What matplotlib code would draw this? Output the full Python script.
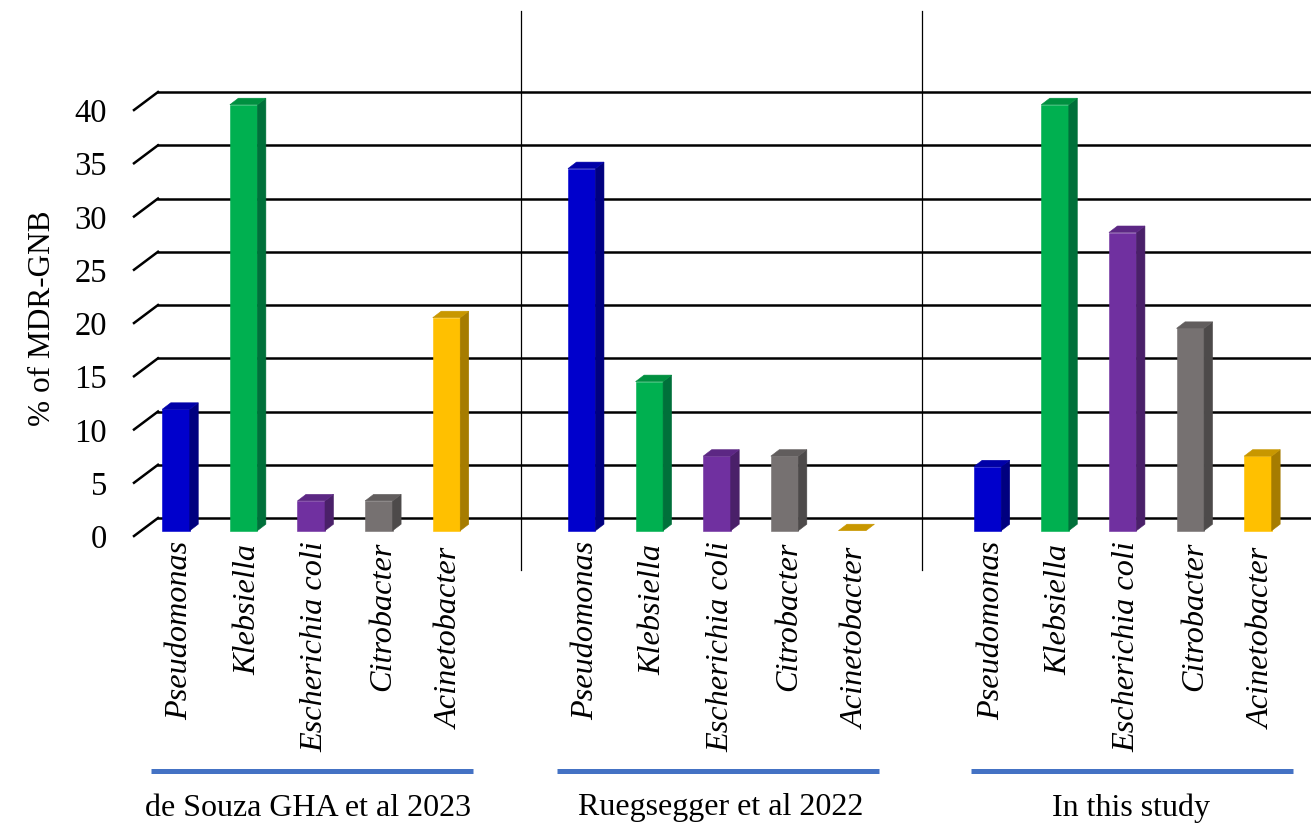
import matplotlib
matplotlib.use('Agg')
from matplotlib import pyplot as plt
from matplotlib.patches import Polygon

plt.rcParams['font.family'] = ['Liberation Serif', 'DejaVu Serif']

# datos
especies = ['Pseudomonas', 'Klebsiella', 'Escherichia coli', 'Citrobacter', 'Acinetobacter']
souza = [11.4, 40, 2.8, 2.8, 20]
ruegsegger = [34, 14, 7, 7, 0]
estudio = [6, 40, 28, 19, 7]
grupos = ['de Souza GHA et al 2023', 'Ruegsegger et al 2022', 'In this study']
ticks = [0, 5, 10, 15, 20, 25, 30, 35, 40]

frente = ['#0000CC', '#00B050', '#7030A0', '#767171', '#FFC000']
lado = ['#00007F', '#00703A', '#4A2069', '#4D4A4A', '#A67C00']
arriba = ['#0000A8', '#009040', '#5C2784', '#615D5D', '#C89700']

# escala: 1 categoria = 67.62 px, 1 unidad de % = 10.65 px
sx = 67.62
sy = 10.65
x0 = 176
y0 = 530.7
W, H = 1311, 826

fig = plt.figure(figsize=(W / 100, H / 100), dpi=100)
ax = fig.add_axes([0, 0, 1, 1])
ax.set_xlim(-x0 / sx, (W - x0) / sx)
ax.set_ylim((y0 - H) / sy, y0 / sy)
ax.axis('off')

ancho = 27.5 / sx
prof_x = 8.5 / sx
prof_y = 6.5 / sy

# grilla con perspectiva
gx0 = -42 / sx
gx1 = -18 / sx
for t in ticks:
	ax.plot([gx0, gx1], [t - 0.5, t + 1.19], color='k', lw=1.8, zorder=1)
	ax.plot([gx1, (W - x0) / sx], [t + 1.19, t + 1.19], color='k', lw=1.8, zorder=1)
	ax.text(-69 / sx, t - 0.85, str(t), fontsize=23.5, ha='right', va='center')

# separadores
for px in [521, 922]:
	ax.plot([(px - x0) / sx] * 2, [(y0 - 570) / sy, (y0 - 11) / sy], color='k', lw=0.9, zorder=2)

# corrimiento de cada rotulo bajo el eje (px)
desfase = [0, 3, 0, 0, 6]

for g, valores in enumerate([souza, ruegsegger, estudio]):
	inicio = g * 6
	for i, v in enumerate(valores):
		x = inicio + i
		izq = x - ancho / 2
		der = x + ancho / 2
		if v > 0:
			ax.bar(x, v, width=ancho, color=frente[i], edgecolor=frente[i], lw=0.4, zorder=3)
			ax.add_patch(Polygon([(der, 0), (der + prof_x, prof_y), (der + prof_x, v + prof_y), (der, v)],
				facecolor=lado[i], edgecolor=lado[i], lw=0.4, zorder=3))
		ax.add_patch(Polygon([(izq, v), (der, v), (der + prof_x, v + prof_y), (izq + prof_x, v + prof_y)],
			facecolor=arriba[i], edgecolor=arriba[i], lw=0.4, zorder=3))
		ax.text(x + 4 / sx, -1 - desfase[i] / sy, especies[i], rotation=90, style='italic', fontsize=23.2,
			ha='center', va='top')

# llaves de grupo
lineas = [(151, 473), (557, 879), (971, 1293)]
centros = [308.5, 720.5, 1131]
for (a, b), c, nombre in zip(lineas, centros, grupos):
	ax.plot([(a - x0) / sx, (b - x0) / sx], [(y0 - 771) / sy] * 2, color='#4472C4', lw=3.6,
		solid_capstyle='butt')
	ax.text((c - x0) / sx, (y0 - 808) / sy, nombre, fontsize=23, ha='center', va='center')

ax.text((43 - x0) / sx, (y0 - 318) / sy, '% of MDR-GNB', rotation=90, fontsize=22.5,
	ha='center', va='center')

fig.savefig('out.png', dpi=100)
